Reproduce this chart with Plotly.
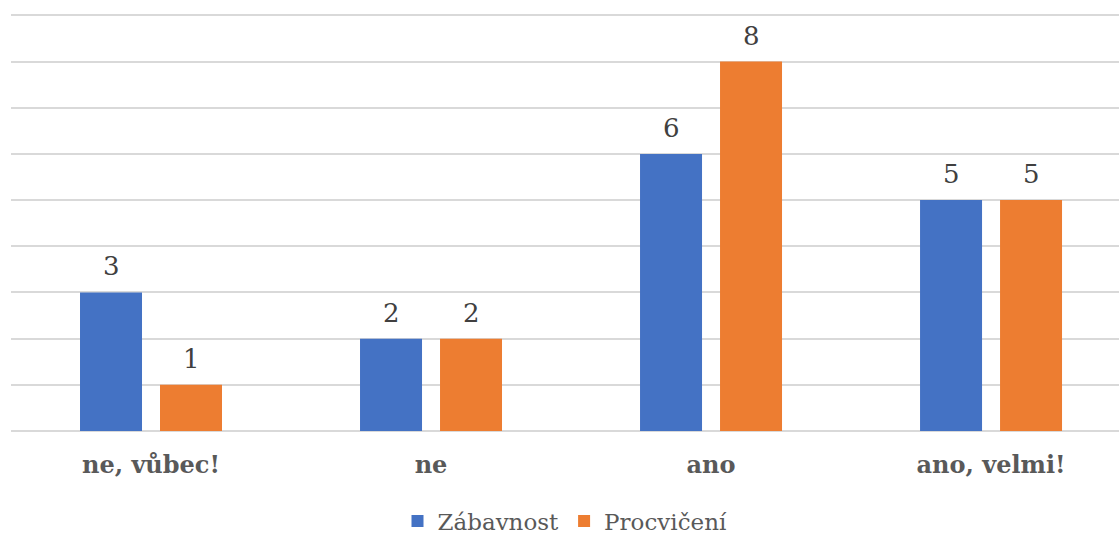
import plotly.graph_objects as go

categories = ["ne, vůbec!", "ne", "ano", "ano, velmi!"]
zabavnost = [3, 2, 6, 5]
procviceni = [1, 2, 8, 5]
series_names = ["Zábavnost", "Procvičení"]

BLUE = "#4472C4"
ORANGE = "#ED7D31"
GRID = "#D9D9D9"
FONT = "DejaVu Serif, serif"
SLOT_PX = 80  # horizontal distance between the two bars of a group

fig = go.Figure()
series = [(series_names[0], zabavnost, BLUE, -1),
          (series_names[1], procviceni, ORANGE, 1)]
for name, vals, color, side in series:
    fig.add_trace(go.Bar(
        name=name, x=categories, y=vals,
        marker=dict(color=color, line=dict(width=0)),
    ))
    # value labels above each bar
    for cat, v in zip(categories, vals):
        fig.add_annotation(
            x=cat, y=v, text=str(v), showarrow=False,
            xanchor="center", yanchor="bottom",
            xshift=side * SLOT_PX / 2, yshift=9,
            font=dict(family=FONT, size=26, color="#404040"),
        )

fig.update_layout(
    width=1119, height=534,
    margin=dict(l=11, r=0, t=14, b=103, autoexpand=False),
    paper_bgcolor="white", plot_bgcolor="white",
    barmode="group", bargap=0.4286, bargroupgap=0.225,
    font=dict(family=FONT, color="#595959"),
    showlegend=True,
    legend=dict(orientation="h", x=0.5, xanchor="center", y=-0.216, yanchor="middle",
                font=dict(family=FONT, size=23, color="#595959"),
                itemwidth=30, traceorder="normal"),
    xaxis=dict(range=[-0.5, 3.457], showgrid=False, showline=False, ticks="",
               automargin=False,
               tickfont=dict(family=FONT, size=24, color="#595959", weight="bold"),
               ticklabelstandoff=17),
    yaxis=dict(range=[0, 9.03], dtick=1, showticklabels=False, showgrid=True,
               automargin=False,
               gridcolor=GRID, gridwidth=2, zeroline=True, zerolinecolor=GRID,
               zerolinewidth=2, showline=False, ticks=""),
)

fig.write_html("out.html")
